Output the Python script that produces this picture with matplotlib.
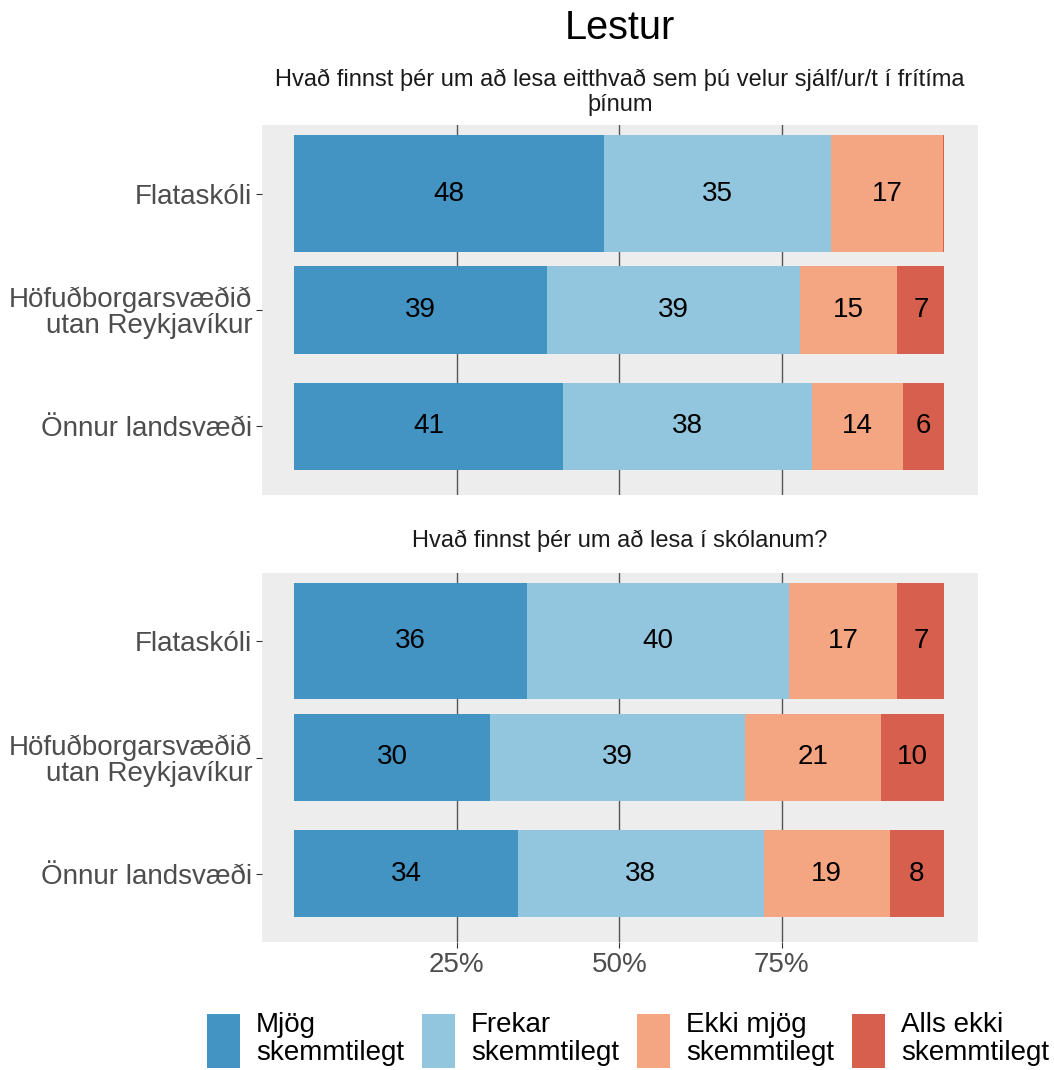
import matplotlib
matplotlib.use("Agg")
import matplotlib.pyplot as plt
from matplotlib.patches import Patch

plt.rcParams['font.family'] = ['Liberation Sans', 'DejaVu Sans']

# categories and answers
skolar = ['Flataskóli', 'Höfuðborgarsvæðið\nutan Reykjavíkur', 'Önnur landsvæði']
svor = ['Mjög\nskemmtilegt', 'Frekar\nskemmtilegt', 'Ekki mjög\nskemmtilegt', 'Alls ekki\nskemmtilegt']
litir = ['#4393C3', '#92C5DE', '#F4A582', '#D6604D']

spurning_1 = 'Hvað finnst þér um að lesa eitthvað sem þú velur sjálf/ur/t í frítíma\nþínum'
spurning_2 = 'Hvað finnst þér um að lesa í skólanum?'

# percentages per school: [mjög, frekar, ekki mjög, alls ekki]
fritimi_flataskoli = [47.6, 35.0, 17.2, 0.2]
fritimi_hofudborg = [38.8, 39.0, 15.0, 7.2]
fritimi_onnur = [41.4, 38.2, 14.0, 6.4]

skoli_flataskoli = [35.8, 40.3, 16.7, 7.2]
skoli_hofudborg = [30.1, 39.2, 20.9, 9.8]
skoli_onnur = [34.4, 37.8, 19.4, 8.4]

x_ticks = [25, 50, 75]
x_labels = ['25%', '50%', '75%']

W, H = 1054, 1070
fig = plt.figure(figsize=(W / 100, H / 100), dpi=100)

grey = '#4D4D4D'
ypos = [3, 2, 1]
heights = [1.0, 0.75, 0.75]


def panel(bottom_px, top_px, rows, question, show_x):
    ax = fig.add_axes([262 / W, 1 - bottom_px / H, 716 / W, (bottom_px - top_px) / H])
    ax.set_facecolor('#EDEDED')
    for s in ax.spines.values():
        s.set_visible(False)
    ax.set_xlim(-5, 105.2)
    ax.set_ylim(0.41, 3.59)
    ax.set_xticks(x_ticks)
    ax.grid(axis='x', color='#555555', linewidth=1.0)
    ax.set_axisbelow(True)
    for r, vals in enumerate(rows):
        left = 0
        for k, v in enumerate(vals):
            ax.barh(ypos[r], v, left=left, height=heights[r], color=litir[k], linewidth=0)
            if v >= 3:
                ax.text(left + v / 2, ypos[r], str(round(v)), ha='center', va='center',
                        fontsize=20, color='black')
            left += v
    ax.set_yticks(ypos)
    ax.set_yticklabels(skolar, fontsize=20, color=grey, linespacing=1.0)
    ax.tick_params(axis='y', length=4, color='#333333', pad=3)
    if show_x:
        ax.set_xticklabels(x_labels, fontsize=20, color=grey)
        ax.tick_params(axis='x', length=4, color='#333333', pad=3)
    else:
        ax.tick_params(axis='x', length=0, labelbottom=False)
    # strip text, centred in a strip of fixed height above the panel
    fig.text(620 / W, 1 - (top_px - 32.5) / H, question, ha='center', va='center',
             fontsize=17, color='#1A1A1A', linespacing=1.15)
    return ax


panel(495, 125, [fritimi_flataskoli, fritimi_hofudborg, fritimi_onnur], spurning_1, False)
panel(942, 573, [skoli_flataskoli, skoli_hofudborg, skoli_onnur], spurning_2, True)

fig.text(620 / W, 1 - 28 / H, 'Lestur', ha='center', va='center', fontsize=28.5)

handles = [Patch(facecolor=c, edgecolor='none') for c in litir]
leg = fig.legend(handles, svor, loc='center', bbox_to_anchor=(628 / W, 1 - 1040 / H), ncol=4,
                 frameon=False, fontsize=20, handlelength=1.2, handleheight=2.6,
                 handletextpad=0.57, columnspacing=0.64, borderpad=0)
for t in leg.get_texts():
    t.set_linespacing(1.08)

fig.savefig('out.png', dpi=100)
